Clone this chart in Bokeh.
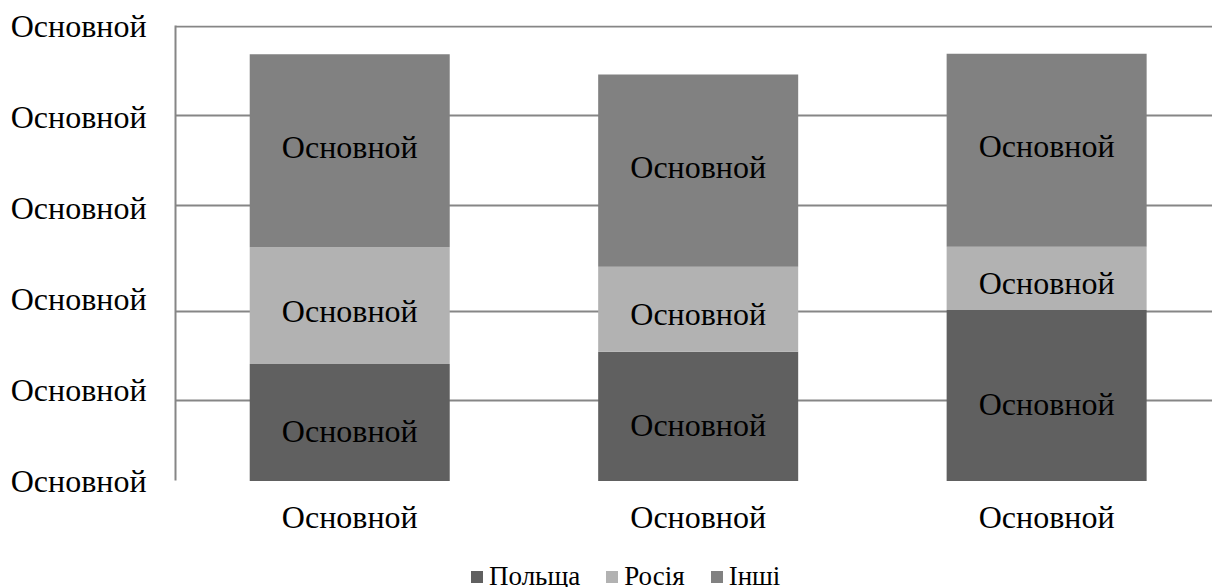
from bokeh.plotting import figure
from bokeh.models import ColumnDataSource, Range1d, FixedTicker, Legend, LegendItem
from bokeh.core.properties import value
from bokeh.embed import file_html
from bokeh.resources import INLINE

# ---- data ----
categories = ["Основной", "Основной", "Основной"]
series_names = ["Польща", "Росія", "Інші"]
poland = [25.7, 28.4, 37.6]
russia = [25.7, 18.7, 13.9]
others = [42.5, 42.3, 42.5]
bar_labels_poland = ["Основной", "Основной", "Основной"]
bar_labels_russia = ["Основной", "Основной", "Основной"]
bar_labels_others = ["Основной", "Основной", "Основной"]
y_ticks = [0, 20, 40, 60, 80, 100]
y_tick_labels = ["Основной", "Основной", "Основной", "Основной", "Основной", "Основной"]
grid_values = [17.6, 37.3, 60.5, 80.3, 100]

# ---- styles ----
colors = ["#606060", "#b2b2b2", "#818181"]
label_offsets = [9, 5, -4]
FONT = "Liberation Serif"
BIG = "32px"
LEG = "27px"
GRID = "#868686"

x = [i + 0.5 for i in range(len(categories))]
values = [poland, russia, others]
src = ColumnDataSource(dict(x=x, **{n: v for n, v in zip(series_names, values)}))

# frame reaches the bottom of the page so the legend sits inside it;
# the value axis line is bounded to the data range
p = figure(width=1212, height=587, x_range=Range1d(0, 2.976), y_range=Range1d(-23.46, 100.2),
           output_backend="svg", toolbar_location=None,
           min_border_left=175, min_border_right=0, min_border_top=25, min_border_bottom=0)
p.outline_line_color = None
p.background_fill_color = "white"

renderers = p.vbar_stack(series_names, x="x", width=0.574, color=colors, line_color=None, source=src)

# data labels centred in each segment
bottoms = [0.0] * len(categories)
all_labels = [bar_labels_poland, bar_labels_russia, bar_labels_others]
for vals, labs, off in zip(values, all_labels, label_offsets):
    centers = [b + v / 2 for b, v in zip(bottoms, vals)]
    bottoms = [b + v for b, v in zip(bottoms, vals)]
    p.text(x=x, y=centers, text=labs, text_align="center", text_baseline="middle",
           y_offset=off, text_font=value(FONT), text_font_size=BIG, text_color="black")

# category labels under the bars (at value 0)
p.text(x=x, y=[0] * len(categories), text=categories, text_align="center",
       text_baseline="alphabetic", y_offset=36, text_font=value(FONT),
       text_font_size=BIG, text_color="black")

# y axis
p.yaxis.bounds = (0, 100.2)
p.yaxis.ticker = FixedTicker(ticks=y_ticks)
p.yaxis.major_label_overrides = {float(t): l for t, l in zip(y_ticks, y_tick_labels)}
p.yaxis.major_tick_line_color = None
p.yaxis.minor_tick_line_color = None
p.yaxis.major_tick_out = 0
p.yaxis.major_tick_in = 0
p.yaxis.axis_line_color = GRID
p.yaxis.axis_line_width = 2
p.yaxis.major_label_standoff = 29
p.yaxis.major_label_text_font = FONT
p.yaxis.major_label_text_font_size = BIG
p.yaxis.major_label_text_color = "black"

p.xaxis.visible = False

# grid
p.xgrid.grid_line_color = None
p.ygrid.ticker = FixedTicker(ticks=grid_values)
p.ygrid.grid_line_color = GRID
p.ygrid.grid_line_width = 2

legend = Legend(items=[LegendItem(label=n, renderers=[r]) for n, r in zip(series_names, renderers)],
                orientation="horizontal", location=(294, -5),
                glyph_width=15, glyph_height=15, label_standoff=5, spacing=24,
                padding=0, margin=0, border_line_color=None, background_fill_alpha=0,
                label_text_font=FONT, label_text_font_size=LEG, label_text_color="black")
p.add_layout(legend, "center")

open("out.html", "w").write(file_html(p, INLINE))
